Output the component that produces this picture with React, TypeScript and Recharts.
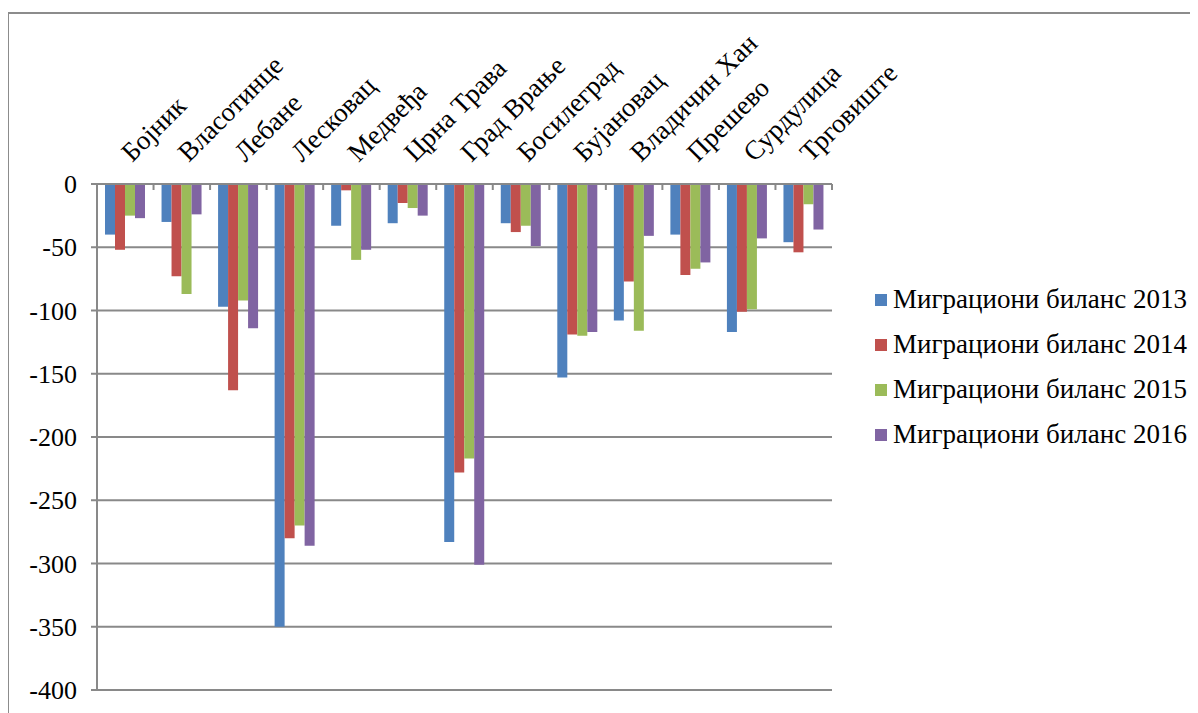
import React from 'react';
import { BarChart, Bar, XAxis, YAxis, CartesianGrid, Legend } from 'recharts';

const categories = ['Бојник', 'Власотинце', 'Лебане', 'Лесковац', 'Медвеђа', 'Црна Трава', 'Град Врање', 'Босилеград', 'Бујановац', 'Владичин Хан', 'Прешево', 'Сурдулица', 'Трговиште'];
const balance2013 = [-40, -30, -97, -350, -33, -31, -283, -31, -153, -108, -40, -117, -46];
const balance2014 = [-52, -73, -163, -280, -5, -15, -228, -38, -119, -77, -72, -101, -54];
const balance2015 = [-25, -87, -92, -270, -60, -19, -217, -33, -120, -116, -67, -99, -16];
const balance2016 = [-27, -24, -114, -286, -52, -25, -301, -49, -117, -41, -62, -43, -36];
const yTicks = [0, -50, -100, -150, -200, -250, -300, -350, -400];
const seriesKeys = ['b2013', 'b2014', 'b2015', 'b2016'];
const seriesNames = ['Миграциони биланс 2013', 'Миграциони биланс 2014', 'Миграциони биланс 2015', 'Миграциони биланс 2016'];
const seriesColors = ['#4F81BD', '#C0504D', '#9BBB59', '#8064A2'];

const data = categories.map((name, i) => ({
  name,
  b2013: balance2013[i],
  b2014: balance2014[i],
  b2015: balance2015[i],
  b2016: balance2016[i],
}));

const FONT = '"Liberation Serif", "Times New Roman", serif';
const FONT_SIZE = 27;
const CHART_W = 1190;
const CHART_H = 700;
const MARGIN = { top: 20, right: 367, bottom: 24, left: 0 };
const YAXIS_W = 88;
const PLOT_W = CHART_W - MARGIN.left - MARGIN.right - YAXIS_W;
const HALF_BAND = PLOT_W / categories.length / 2;
const AXIS_COLOR = '#898989';

const CategoryTick = (props: any) => {
  const { x, y, payload, index } = props;
  const tx = x + 7;
  const ty = y - 21;
  const last = index === categories.length - 1;
  return (
    <g>
      <line x1={x - HALF_BAND} x2={x - HALF_BAND} y1={y} y2={y + 6} stroke={AXIS_COLOR} strokeWidth={2} />
      {last && <line x1={x + HALF_BAND} x2={x + HALF_BAND} y1={y} y2={y + 6} stroke={AXIS_COLOR} strokeWidth={2} />}
      <text x={tx} y={ty} transform={`rotate(-45 ${tx} ${ty})`} textAnchor="start" fontFamily={FONT} fontSize={FONT_SIZE} fill="#000">
        {payload.value}
      </text>
    </g>
  );
};

const ValueTick = (props: any) => {
  const { x, y, payload } = props;
  return (
    <text x={x} y={y} dy="0.35em" textAnchor="end" fontFamily={FONT} fontSize={26} fill="#000">
      {payload.value}
    </text>
  );
};

const LegendContent = () => (
  <div style={{ fontFamily: FONT, fontSize: FONT_SIZE, color: '#000' }}>
    {seriesNames.map((n, i) => (
      <div key={n} style={{ height: 45, display: 'flex', alignItems: 'center', whiteSpace: 'nowrap' }}>
        <span style={{ display: 'inline-block', width: 12, height: 12, background: seriesColors[i], marginRight: 6 }} />
        <span>{n}</span>
      </div>
    ))}
  </div>
);

export default function App() {
  return (
    <div style={{ width: 1200, height: 720, marginLeft: -1, marginTop: 4, border: '2px solid #8c8c8c', borderRight: 'none', borderBottom: 'none', background: '#fff', overflow: 'hidden' }}>
      <BarChart width={CHART_W} height={CHART_H} data={data} margin={MARGIN} barCategoryGap={8} barGap={0}>
        <CartesianGrid horizontal={true} vertical={false} stroke={AXIS_COLOR} strokeWidth={2} />
        <XAxis
          dataKey="name"
          orientation="top"
          height={150}
          interval={0}
          tickLine={false}
          tickSize={0}
          tickMargin={0}
          axisLine={{ stroke: AXIS_COLOR, strokeWidth: 2 }}
          tick={<CategoryTick />}
        />
        <YAxis
          type="number"
          domain={[-400, 0]}
          ticks={yTicks}
          interval={0}
          width={YAXIS_W}
          tickSize={6}
          tickMargin={14}
          tickLine={{ stroke: AXIS_COLOR, strokeWidth: 2 }}
          axisLine={{ stroke: AXIS_COLOR, strokeWidth: 2 }}
          tick={<ValueTick />}
        />
        <Legend
          layout="vertical"
          verticalAlign="middle"
          align="center"
          content={<LegendContent />}
          wrapperStyle={{ position: 'absolute', left: 866, top: 263, width: 330 }}
        />
        {seriesKeys.map((k, i) => (
          <Bar key={k} dataKey={k} name={seriesNames[i]} fill={seriesColors[i]} isAnimationActive={false} />
        ))}
      </BarChart>
    </div>
  );
}
